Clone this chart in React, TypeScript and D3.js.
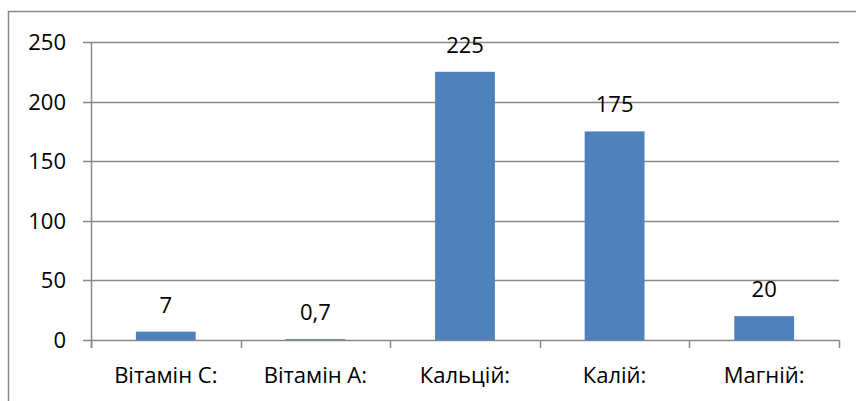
import { useEffect, useRef } from "react";
import * as d3 from "d3";

// chart data
const categories = ["Вітамін С:", "Вітамін А:", "Кальцій:", "Калій:", "Магній:"];
const values = [7, 0.7, 225, 175, 20];
const valueLabels = ["7", "0,7", "225", "175", "20"];
const yTicks = [0, 50, 100, 150, 200, 250];

const WIDTH = 856;
const HEIGHT = 401;

function App() {
  const svgRef = useRef<SVGSVGElement | null>(null);

  useEffect(() => {
    const svg = d3.select(svgRef.current);
    svg.selectAll("*").remove();

    // plot area edges
    const left = 91;
    const right = 839;
    const top = 42;
    const bottom = 340;
    const font = "'Open Sans', sans-serif";
    const fontSize = 22;
    const grey = "#878787";

    // outer chart border (right and bottom edges fall outside the picture)
    svg
      .append("rect")
      .attr("x", 8.5)
      .attr("y", 11.5)
      .attr("width", WIDTH + 10)
      .attr("height", HEIGHT + 10)
      .attr("fill", "none")
      .attr("stroke", grey)
      .attr("stroke-width", 1.5);

    const x = d3.scaleBand<string>().domain(categories).range([left, right]).padding(0);
    const y = d3.scaleLinear().domain([0, 250]).range([bottom, top]);

    // horizontal gridlines
    svg
      .append("g")
      .selectAll("line")
      .data(yTicks)
      .join("line")
      .attr("x1", left - 8)
      .attr("x2", right)
      .attr("y1", (d) => Math.round(y(d)) + 0.5)
      .attr("y2", (d) => Math.round(y(d)) + 0.5)
      .attr("stroke", grey)
      .attr("stroke-width", 1.5);

    // y axis line
    svg
      .append("line")
      .attr("x1", left + 0.5)
      .attr("x2", left + 0.5)
      .attr("y1", top)
      .attr("y2", bottom + 8)
      .attr("stroke", grey)
      .attr("stroke-width", 1.5);

    // category boundary ticks under the x axis
    const boundaries = categories.map((c) => x(c) as number).concat([right]);
    svg
      .append("g")
      .selectAll("line")
      .data(boundaries)
      .join("line")
      .attr("x1", (d) => Math.round(d) + 0.5)
      .attr("x2", (d) => Math.round(d) + 0.5)
      .attr("y1", bottom)
      .attr("y2", bottom + 8)
      .attr("stroke", grey)
      .attr("stroke-width", 1.5);

    // y tick labels
    svg
      .append("g")
      .selectAll("text")
      .data(yTicks)
      .join("text")
      .attr("x", 66)
      .attr("y", (d) => y(d))
      .attr("dy", "0.36em")
      .attr("text-anchor", "end")
      .attr("font-family", font)
      .attr("font-size", fontSize)
      .attr("fill", "#000")
      .text((d) => d);

    // bars, 40% of each band
    const barW = x.bandwidth() * 0.4;
    svg
      .append("g")
      .selectAll("rect")
      .data(values)
      .join("rect")
      .attr("x", (d, i) => (x(categories[i]) as number) + (x.bandwidth() - barW) / 2)
      .attr("y", (d) => y(d))
      .attr("width", barW)
      .attr("height", (d) => y(0) - y(d))
      .attr("fill", "#4F81BD");

    // value labels above bars
    svg
      .append("g")
      .selectAll("text")
      .data(values)
      .join("text")
      .attr("x", (d, i) => (x(categories[i]) as number) + x.bandwidth() / 2)
      .attr("y", (d) => y(d) - 19)
      .attr("text-anchor", "middle")
      .attr("font-family", font)
      .attr("font-size", fontSize)
      .attr("fill", "#000")
      .text((d, i) => valueLabels[i]);

    // category labels
    svg
      .append("g")
      .selectAll("text")
      .data(categories)
      .join("text")
      .attr("x", (d) => (x(d) as number) + x.bandwidth() / 2)
      .attr("y", 383)
      .attr("text-anchor", "middle")
      .attr("font-family", font)
      .attr("font-size", fontSize)
      .attr("fill", "#000")
      .text((d) => d);
  }, []);

  return (
    <div style={{ position: "fixed", left: 0, top: 0 }}>
      <svg ref={svgRef} width={WIDTH} height={HEIGHT} style={{ display: "block", background: "#fff" }} />
    </div>
  );
}

export default App;
